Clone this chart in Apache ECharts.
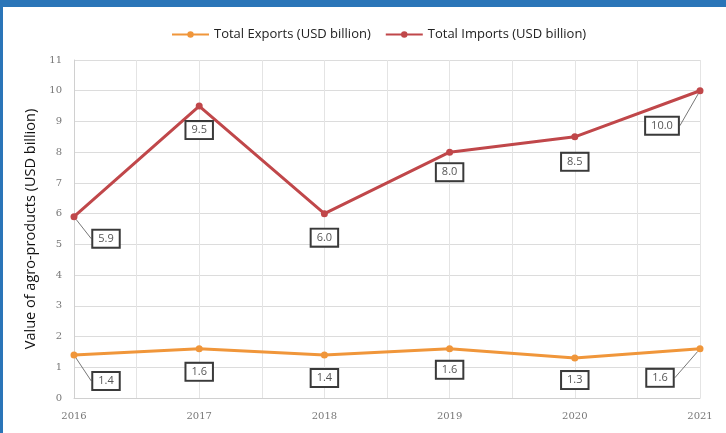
<!DOCTYPE html>
<html>
<head>
<meta charset="utf-8">
<script src="https://cdn.jsdelivr.net/npm/echarts@6/dist/echarts.min.js"></script>
<style>
html,body{margin:0;padding:0;background:#fff;}
#chart{width:726px;height:433px;}
</style>
</head>
<body>
<div id="chart"></div>
<script>
var years = ['2016','2017','2018','2019','2020','2021'];
var exportsUSD = [1.4, 1.6, 1.4, 1.6, 1.3, 1.6];
var importsUSD = [5.9, 9.5, 6.0, 8.0, 8.5, 10.0];
var seriesNames = ['Total Exports (USD billion)', 'Total Imports (USD billion)'];
var yAxisTitle = 'Value of agro-products (USD billion)';

// label placement (style, pixels from point)
var exportLabelShift = [[32,26],[0,23],[0,23],[0,21],[0,22],[-40,29]];
var importLabelShift = [[32,22],[0,24],[0,24],[0,20],[0,25],[-38,35]];
var leader = [true,false,false,false,false,true];

function mkData(vals){
  return vals.map(function(v,i){
    return {value: v, labelLine: {show: leader[i]}};
  });
}

var labelStyle = {
  show: true,
  position: 'inside',
  formatter: function(p){ return p.value.toFixed(1); },
  backgroundColor: '#fff',
  borderColor: '#3a3a3a',
  borderWidth: 2,
  padding: [3,5,2,5],
  fontSize: 11,
  fontFamily: 'Open Sans',
  color: '#555'
};

var chart = echarts.init(document.getElementById('chart'));
chart.setOption({
  animation: false,
  backgroundColor: '#fff',
  graphic: [
    {type:'rect', left:0, top:0, shape:{width:726,height:7}, style:{fill:'#2a75b8'}, z:100},
    {type:'rect', left:0, top:0, shape:{width:3,height:433}, style:{fill:'#2a75b8'}, z:100}
  ],
  legend: {
    top: 23,
    left: 166,
    itemWidth: 37,
    itemHeight: 8,
    itemGap: 14,
    textStyle: {fontFamily: 'Open Sans', fontSize: 13, color: '#222'},
    data: seriesNames
  },
  grid: {left: 74, right: 26, top: 60, bottom: 35},
  xAxis: [{
    type: 'category',
    data: years,
    boundaryGap: false,
    axisLine: {show: true, lineStyle: {color: '#d0d0d0'}},
    axisTick: {show: false},
    axisLabel: {color: '#777', fontSize: 10, fontFamily: 'DejaVu Serif', margin: 13},
    splitLine: {show: true, lineStyle: {color: '#dcdcdc'}}
  }, {
    type: 'value',
    min: 0, max: 10, interval: 1,
    position: 'bottom',
    show: true,
    axisLine: {show: false},
    axisTick: {show: false},
    axisLabel: {show: false},
    splitLine: {show: true, lineStyle: {color: '#e4e4e4'}}
  }],
  yAxis: {
    type: 'value',
    min: 0, max: 11, interval: 1,
    name: yAxisTitle,
    nameLocation: 'middle',
    nameGap: 33,
    nameTextStyle: {fontFamily: 'Open Sans', fontSize: 14.5, color: '#111'},
    axisLine: {show: true, lineStyle: {color: '#d0d0d0'}},
    axisTick: {show: false},
    axisLabel: {color: '#777', fontSize: 10, fontFamily: 'DejaVu Serif', margin: 12},
    splitLine: {show: true, lineStyle: {color: '#dcdcdc'}}
  },
  series: [
    {
      name: seriesNames[0],
      type: 'line',
      xAxisIndex: 0,
      data: mkData(exportsUSD),
      color: '#f0963a',
      lineStyle: {width: 3, color: '#f0963a'},
      symbol: 'circle', symbolSize: 7,
      itemStyle: {color: '#f0963a'},
      label: labelStyle,
      labelLine: {show: false, lineStyle: {color: '#777', width: 1}},
      labelLayout: function(p){
        var s = exportLabelShift[p.dataIndex];
        return {dx: s[0], dy: s[1]};
      }
    },
    {
      name: seriesNames[1],
      type: 'line',
      xAxisIndex: 0,
      data: mkData(importsUSD),
      color: '#c0474a',
      lineStyle: {width: 3, color: '#c0474a'},
      symbol: 'circle', symbolSize: 7,
      itemStyle: {color: '#c0474a'},
      label: labelStyle,
      labelLine: {show: false, lineStyle: {color: '#777', width: 1}},
      labelLayout: function(p){
        var s = importLabelShift[p.dataIndex];
        return {dx: s[0], dy: s[1]};
      }
    }
  ]
});
</script>
</body>
</html>
